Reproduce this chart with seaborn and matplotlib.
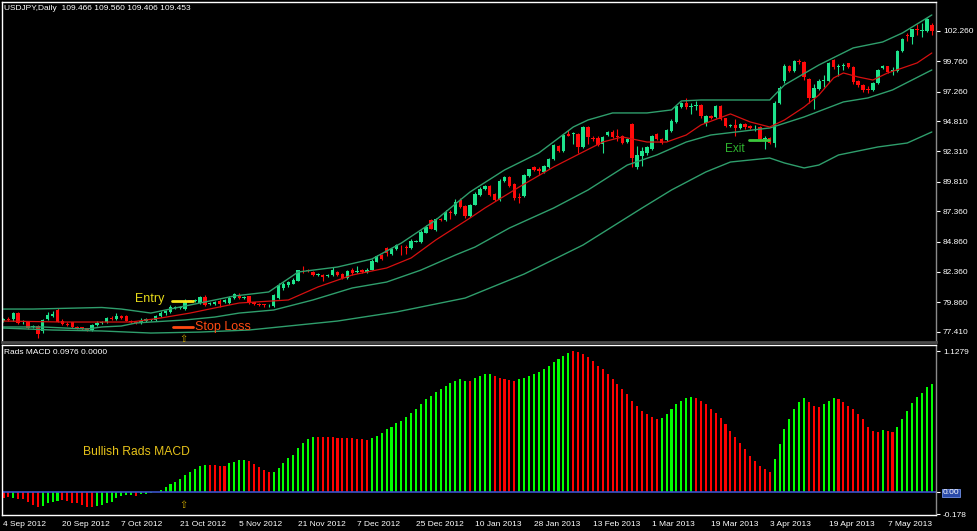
import numpy as np
import matplotlib
matplotlib.use("Agg")
import matplotlib.pyplot as plt
import seaborn as sns

# USDJPY daily candles (bar 0 = 4 Sep 2012)
open_ = [78.35, 78.50, 78.45, 78.95, 78.20, 78.20, 77.80, 77.90, 77.45, 78.50,
         78.75, 79.20, 78.35, 78.10, 78.20, 77.85, 77.80, 77.70, 77.55, 78.00,
         78.15, 78.20, 78.60, 78.50, 78.70, 78.75, 78.30, 78.25, 78.15, 78.35,
         78.40, 78.40, 78.75, 78.95, 79.05, 79.40, 79.40, 79.30, 80.00, 79.95,
         79.80, 80.30, 79.70, 79.75, 80.00, 79.85, 79.80, 80.25, 80.50, 80.25,
         80.35, 79.85, 79.70, 79.70, 79.60, 79.55, 80.20, 81.00, 81.25, 81.40,
         81.65, 82.55, 82.50, 82.40, 82.15, 82.15, 82.05, 82.10, 82.40, 82.20,
         81.85, 82.50, 82.35, 82.50, 82.35, 82.55, 83.20, 83.75, 84.30, 83.85,
         84.25, 84.45, 84.45, 84.30, 84.85, 84.80, 85.60, 86.65, 85.80, 86.70,
         86.65, 87.35, 87.15, 88.30, 87.80, 86.95, 87.90, 88.71, 89.18, 89.45,
         88.80, 88.30, 89.90, 90.17, 89.60, 88.55, 88.60, 90.28, 91.00, 90.90,
         90.64, 91.00, 91.66, 92.79, 92.37, 93.75, 93.72, 93.72, 92.65, 94.36,
         93.45, 93.45, 92.90, 93.67, 93.94, 93.55, 93.60, 93.10, 94.58, 91.00,
         91.93, 92.15, 92.48, 93.75, 93.30, 93.26, 94.03, 94.77, 96.00, 96.34,
         96.00, 96.10, 96.15, 94.69, 95.24, 95.13, 96.06, 95.04, 94.45, 94.49,
         94.22, 94.58, 94.40, 94.30, 94.36, 93.30, 93.40, 93.04, 96.34, 98.15,
         99.37, 98.98, 99.80, 99.70, 98.27, 96.70, 97.43, 98.10, 98.15, 99.86,
         99.25, 99.40, 99.59, 99.26, 98.15, 97.80, 97.45, 97.38, 97.98, 99.20,
         99.37, 98.95, 98.98, 100.63, 101.95, 101.79, 102.40, 102.25, 102.28, 102.75]
high = [78.60, 78.62, 79.05, 79.05, 78.40, 78.25, 78.00, 77.95, 78.45, 79.05,
        79.10, 79.40, 78.45, 78.20, 78.25, 77.90, 77.85, 77.75, 78.05, 78.30,
        78.30, 78.65, 78.75, 78.95, 78.80, 78.80, 78.40, 78.30, 78.55, 78.60,
        78.50, 78.85, 79.10, 79.25, 79.60, 79.55, 79.55, 80.10, 80.05, 80.15,
        80.40, 80.45, 79.85, 80.00, 80.10, 80.15, 80.35, 80.65, 80.60, 80.40,
        80.40, 79.90, 79.80, 79.75, 79.70, 80.55, 81.45, 81.50, 81.60, 81.85,
        82.55, 82.85, 82.60, 82.45, 82.30, 82.20, 82.20, 82.75, 82.45, 82.25,
        82.55, 82.65, 82.85, 82.60, 82.65, 83.40, 83.80, 83.85, 84.45, 84.35,
        84.65, 84.55, 84.55, 85.05, 85.00, 85.80, 86.20, 86.75, 86.85, 86.80,
        87.45, 87.45, 88.35, 88.45, 87.85, 88.00, 89.00, 89.35, 89.55, 89.55,
        88.90, 90.00, 90.30, 90.25, 89.70, 88.85, 90.45, 90.90, 91.10, 91.00,
        91.20, 91.75, 92.90, 92.85, 93.75, 94.10, 93.95, 93.80, 94.45, 94.45,
        93.55, 93.55, 93.60, 94.00, 94.05, 94.20, 93.70, 93.40, 94.70, 92.80,
        92.70, 92.80, 93.70, 93.85, 93.40, 94.15, 94.95, 96.15, 96.40, 96.70,
        96.35, 96.45, 96.25, 95.35, 95.35, 96.15, 96.15, 95.10, 94.60, 95.00,
        94.65, 94.65, 94.50, 94.50, 94.45, 93.60, 93.50, 96.45, 97.75, 99.50,
        99.45, 99.90, 99.95, 99.80, 98.35, 97.85, 98.30, 98.60, 99.70, 99.95,
        99.50, 99.60, 99.65, 99.35, 98.20, 97.90, 97.70, 98.05, 99.15, 99.45,
        99.40, 99.30, 100.70, 101.65, 102.10, 102.45, 102.80, 102.90, 103.30, 102.90]
low = [78.25, 78.30, 78.35, 78.05, 78.10, 77.65, 77.70, 76.95, 77.35, 78.40,
       78.65, 78.20, 77.95, 77.90, 77.75, 77.65, 77.55, 77.45, 77.50, 77.90,
       78.05, 78.15, 78.40, 78.40, 78.50, 78.30, 78.15, 78.05, 78.05, 78.25,
       78.30, 78.35, 78.65, 78.85, 78.95, 79.30, 79.30, 79.25, 79.85, 79.85,
       79.75, 79.55, 79.60, 79.65, 79.45, 79.80, 79.75, 80.15, 80.15, 80.15,
       79.75, 79.60, 79.55, 79.50, 79.50, 79.50, 80.10, 80.90, 81.10, 81.35,
       81.60, 82.25, 82.35, 82.05, 82.05, 81.65, 81.95, 82.00, 82.05, 81.75,
       81.80, 82.15, 82.25, 82.25, 82.30, 82.50, 83.15, 83.35, 83.65, 83.80,
       84.15, 83.75, 83.85, 84.25, 84.80, 84.75, 85.55, 85.90, 85.75, 86.55,
       86.60, 86.70, 87.10, 87.65, 86.85, 86.90, 87.85, 88.60, 89.10, 88.60,
       88.20, 88.25, 89.80, 89.35, 88.30, 88.05, 88.55, 90.20, 90.70, 90.40,
       90.55, 90.95, 91.60, 92.25, 92.30, 93.55, 92.90, 92.15, 92.60, 92.90,
       93.20, 92.75, 92.20, 93.60, 93.45, 93.15, 92.95, 93.00, 91.00, 90.85,
       91.10, 92.05, 92.40, 93.25, 92.95, 93.20, 93.95, 94.70, 95.90, 95.85,
       95.40, 95.70, 95.10, 94.40, 94.95, 95.05, 94.90, 94.35, 94.35, 93.55,
       94.15, 94.20, 94.15, 94.00, 93.20, 92.55, 92.90, 92.70, 96.25, 98.00,
       98.85, 98.90, 99.50, 98.20, 96.30, 95.85, 97.35, 97.60, 98.05, 99.10,
       98.50, 99.00, 99.20, 97.90, 97.65, 97.25, 97.10, 97.30, 97.90, 99.10,
       98.80, 98.60, 98.85, 100.55, 101.40, 101.20, 101.95, 101.80, 102.20, 101.95]
close = [78.50, 78.40, 78.95, 78.15, 78.30, 77.75, 77.90, 77.20, 78.40, 78.80,
         78.90, 78.25, 78.05, 78.00, 77.80, 77.75, 77.65, 77.55, 77.95, 78.15,
         78.20, 78.55, 78.50, 78.75, 78.60, 78.35, 78.25, 78.15, 78.35, 78.45,
         78.40, 78.75, 79.00, 79.15, 79.45, 79.40, 79.45, 80.00, 79.95, 80.05,
         80.32, 79.65, 79.75, 79.90, 79.70, 80.05, 80.25, 80.55, 80.25, 80.30,
         79.85, 79.70, 79.65, 79.60, 79.62, 80.45, 81.25, 81.35, 81.50, 81.70,
         82.50, 82.50, 82.45, 82.15, 82.20, 81.95, 82.10, 82.50, 82.15, 81.85,
         82.45, 82.25, 82.45, 82.35, 82.55, 83.30, 83.70, 83.40, 83.90, 84.25,
         84.55, 84.40, 84.30, 84.90, 84.90, 85.70, 86.10, 85.95, 86.75, 86.65,
         87.35, 87.20, 88.10, 87.75, 87.00, 87.90, 88.80, 89.24, 89.45, 88.71,
         88.30, 89.90, 90.17, 89.45, 88.50, 88.45, 90.36, 90.83, 90.78, 90.70,
         91.11, 91.69, 92.84, 92.35, 93.67, 93.62, 93.80, 92.65, 94.36, 93.48,
         93.35, 92.84, 93.53, 93.94, 93.53, 93.50, 93.04, 93.30, 91.74, 92.00,
         92.32, 92.70, 93.59, 93.31, 93.05, 94.08, 94.85, 96.06, 96.30, 95.95,
         96.10, 96.15, 95.26, 95.24, 95.04, 96.06, 94.96, 94.44, 94.50, 94.22,
         94.58, 94.30, 94.25, 94.30, 93.31, 93.40, 93.04, 96.34, 97.52, 99.37,
         98.98, 99.81, 99.70, 98.43, 96.70, 97.52, 98.15, 98.20, 99.59, 99.26,
         99.40, 99.45, 99.30, 98.07, 97.80, 97.38, 97.40, 97.98, 99.04, 99.35,
         98.90, 99.00, 100.63, 101.57, 101.85, 102.39, 102.30, 102.35, 103.22, 102.28]

# indicator lines (bar index, price)
upper_idx = [0, 6, 20, 24, 30, 35, 40, 47, 54, 60, 68, 75, 81, 88, 95, 102, 109, 116,
             119, 124, 131, 136, 138, 142, 156, 159, 166, 173, 179, 183, 189]
upper = [79.30, 79.30, 79.43, 79.30, 78.97, 79.39, 79.80, 80.38, 80.71, 82.36, 82.77,
         83.43, 84.75, 86.65, 88.97, 90.78, 92.19, 94.33, 94.91, 95.49, 95.49, 95.74,
         96.48, 96.56, 96.56, 97.80, 99.45, 100.86, 101.35, 102.09, 103.58]
ma_idx = [0, 12, 26, 32, 38, 43, 48, 58, 64, 71, 78, 83, 88, 95, 98, 105, 112, 118,
          122, 126, 131, 135, 139, 142, 148, 152, 156, 159, 163, 166, 169, 171, 174,
          177, 180, 183, 186, 189]
ma = [78.31, 78.23, 78.23, 78.56, 78.97, 79.39, 79.80, 80.05, 81.12, 82.11, 82.69,
      83.52, 85.00, 86.82, 87.64, 89.38, 91.03, 92.27, 93.09, 93.51, 93.09, 93.09,
      93.67, 94.50, 95.41, 94.75, 94.33, 94.91, 95.98, 96.97, 98.38, 98.79, 98.46,
      98.21, 98.79, 99.20, 99.62, 100.44]
lower_idx = [0, 8, 17, 20, 24, 27, 30, 37, 43, 48, 55, 63, 71, 78, 85, 92, 96, 103,
             112, 119, 127, 133, 139, 144, 156, 163, 171, 176, 181, 189]
lower = [77.82, 77.82, 77.65, 77.82, 77.90, 78.15, 78.23, 78.40, 78.64, 78.97, 79.22,
         80.05, 81.04, 81.53, 82.52, 83.76, 84.42, 85.99, 87.64, 89.13, 91.19, 92.02,
         93.09, 93.67, 94.25, 95.16, 96.40, 96.73, 97.39, 99.04]
outer_idx = [0, 10, 20, 30, 40, 50, 60, 68, 80, 94, 106, 118, 130, 136, 143, 148,
             156, 159, 163, 166, 170, 178, 184, 189]
outer = [77.73, 77.57, 77.49, 77.32, 77.40, 77.57, 77.98, 78.31, 79.06, 80.21, 82.19,
         84.59, 87.64, 89.13, 90.62, 91.44, 91.77, 91.36, 90.95, 91.19, 92.02, 92.68,
         93.01, 93.92]

# Rads MACD histogram and its colour (g = green, r = red)
macd = [-0.050, -0.040, -0.050, -0.060, -0.060, -0.077, -0.104, -0.123, -0.112, -0.090,
        -0.077, -0.069, -0.064, -0.069, -0.085, -0.090, -0.104, -0.117, -0.117, -0.112,
        -0.104, -0.090, -0.077, -0.050, -0.032, -0.027, -0.024, -0.029, -0.019, -0.013,
        -0.008, 0.003, 0.019, 0.037, 0.064, 0.083, 0.107, 0.136, 0.163, 0.181,
        0.208, 0.213, 0.214, 0.213, 0.211, 0.209, 0.229, 0.240, 0.253, 0.256,
        0.251, 0.224, 0.203, 0.176, 0.163, 0.160, 0.189, 0.229, 0.269, 0.296,
        0.349, 0.389, 0.424, 0.440, 0.443, 0.443, 0.437, 0.436, 0.434, 0.433,
        0.430, 0.428, 0.425, 0.422, 0.418, 0.430, 0.450, 0.470, 0.500, 0.520,
        0.550, 0.570, 0.600, 0.630, 0.660, 0.700, 0.740, 0.770, 0.800, 0.820,
        0.850, 0.870, 0.890, 0.900, 0.885, 0.890, 0.910, 0.930, 0.940, 0.945,
        0.930, 0.915, 0.905, 0.895, 0.885, 0.900, 0.910, 0.925, 0.940, 0.960,
        0.980, 1.010, 1.040, 1.060, 1.090, 1.110, 1.128, 1.120, 1.100, 1.080,
        1.050, 1.010, 0.980, 0.940, 0.900, 0.860, 0.820, 0.780, 0.730, 0.690,
        0.650, 0.620, 0.600, 0.580, 0.590, 0.620, 0.660, 0.700, 0.730, 0.750,
        0.760, 0.750, 0.730, 0.700, 0.660, 0.630, 0.590, 0.540, 0.490, 0.440,
        0.390, 0.340, 0.290, 0.250, 0.210, 0.180, 0.160, 0.260, 0.380, 0.500,
        0.580, 0.660, 0.720, 0.750, 0.720, 0.690, 0.680, 0.700, 0.730, 0.750,
        0.740, 0.720, 0.690, 0.660, 0.620, 0.584, 0.520, 0.490, 0.480, 0.496,
        0.490, 0.480, 0.520, 0.584, 0.650, 0.710, 0.760, 0.790, 0.840, 0.860]
macd_color = ("rrgrrrrrgg" "ggrrrrrrrg" "gggggggrgg" "gggggggggg"
              "ggrrrrgggg" "rrrrrggggg" "ggggrrrrrr" "rrrrrggggg"
              "gggggggggg" "gggggrgggg" "rrrrrggggg" "ggggggrrrr"
              "rrrrrrrrrr" "rrrrgggggg" "grrrrrrrrr" "rrrrrrrggg"
              "ggggrrrggg" "rrrrrrrrrg" "rrgggggggg")

date_labels = ["4 Sep 2012", "20 Sep 2012", "7 Oct 2012", "21 Oct 2012", "5 Nov 2012",
               "21 Nov 2012", "7 Dec 2012", "25 Dec 2012", "10 Jan 2013", "28 Jan 2013",
               "13 Feb 2013", "1 Mar 2013", "19 Mar 2013", "3 Apr 2013", "19 Apr 2013",
               "7 May 2013"]
price_ticks = [102.26, 99.76, 97.26, 94.81, 92.31, 89.81, 87.36, 84.86, 82.36, 79.86, 77.41]

sns.set_theme(style="dark")
plt.rcParams['font.family'] = ['Liberation Sans', 'DejaVu Sans']

W, H = 977, 531
fig = plt.figure(figsize=(W / 100, H / 100), dpi=100, facecolor='black')
ax = fig.add_axes([2 / W, 1 - 342 / H, 934 / W, 340 / H])
ax2 = fig.add_axes([2 / W, 1 - 515 / H, 934 / W, 170 / H])

green_c = '#1de38c'
red_c = '#ff0a0a'
band_c = '#2f9e6c'

idx = np.arange(len(close))
o = np.array(open_)
c = np.array(close)
cols = np.where(c >= o, green_c, red_c)
ax.vlines(idx, low, high, colors=cols, linewidth=0.8)
ax.bar(idx, np.maximum(np.abs(c - o), 0.06), bottom=np.minimum(o, c), width=0.7,
       color=cols, linewidth=0)

sns.lineplot(x=upper_idx, y=upper, ax=ax, color=band_c, linewidth=1.0, legend=False)
sns.lineplot(x=lower_idx, y=lower, ax=ax, color=band_c, linewidth=1.0, legend=False)
sns.lineplot(x=outer_idx, y=outer, ax=ax, color=band_c, linewidth=1.0, legend=False)
sns.lineplot(x=ma_idx, y=ma, ax=ax, color='#d61010', linewidth=0.9, legend=False)

# trade markers
ax.plot([34.3, 38.5], [79.96, 79.96], color='#f5e31a', lw=2)
ax.text(29.8, 80.13, "Entry", color='#e8dc1a', fontsize=9, ha='center', va='center')
ax.plot([34.5, 38.5], [77.82, 77.82], color='#ff4a12', lw=2)
ax.text(39.0, 77.82, "Stop Loss", color='#ff4a12', fontsize=9, ha='left', va='center')
ax.text(36.7, 76.80, "\u21e7", color='#c9a400', fontsize=7, ha='center', va='center',
        family=['DejaVu Sans'])
ax.plot([151.7, 155.8], [93.26, 93.26], color='#3cc83c', lw=2)
ax.text(146.9, 92.52, "Exit", color='#2fb52f', fontsize=8.5, ha='left', va='center')

ax2.bar(idx, macd, width=0.42,
        color=['#00ff00' if k == 'g' else '#ff0000' for k in macd_color], linewidth=0)
ax2.axhline(0, color='#3a52c8', lw=1.2)
ax2.text(16.1, 0.32, "Bullish Rads MACD", color='#e6c21a', fontsize=8.7, ha='left', va='center')
ax2.text(36.7, -0.104, "\u21e7", color='#c9a400', fontsize=7, ha='center', va='center',
         family=['DejaVu Sans'])

for a in (ax, ax2):
    a.set_facecolor('black')
    a.set_xlim(-0.3, 189.85)
    a.grid(False)
    a.set_xlabel('')
    a.set_ylabel('')
    a.yaxis.tick_right()
    a.tick_params(axis='y', colors='white', labelcolor='white', labelsize=6,
                  length=3, width=0.8, pad=2, direction='out')
    a.spines['left'].set_color('white')
    a.spines['top'].set_color('white')
    a.spines['right'].set_color('#8a8a8a')
    for s in a.spines.values():
        s.set_linewidth(1.0)

ax.set_ylim(76.58, 104.65)
ax.set_yticks(price_ticks)
ax.set_yticklabels([f"{v:.3f}" for v in price_ticks])
ax.set_xticks([])
ax.spines['bottom'].set_color('#4a4a4a')
ax.spines['bottom'].set_linewidth(2.0)

ax2.set_ylim(-0.185, 1.176)
ax2.set_yticks([1.1279, 0.0, -0.178])
ax2.set_yticklabels(["1.1279", "0.00", "-0.178"])
ax2.get_yticklabels()[1].set_bbox(dict(facecolor='#2a4aa8', edgecolor='#7090e8',
                                       pad=0.6, linewidth=0.6))
ax2.spines['bottom'].set_color('white')
ax2.set_xticks(np.arange(0, 181, 12))
ax2.set_xticklabels(date_labels, ha='left')
ax2.tick_params(axis='x', colors='white', labelcolor='white', labelsize=6,
                length=3, width=0.8, pad=1.5, direction='out')

fig.text(4 / W, 1 - 8 / H, "USDJPY,Daily  109.466 109.560 109.406 109.453",
         color='white', fontsize=6, ha='left', va='center')
fig.text(4 / W, 1 - 352 / H, "Rads MACD 0.0976 0.0000",
         color='white', fontsize=6, ha='left', va='center')

fig.savefig("out.png", dpi=100, facecolor='black')
